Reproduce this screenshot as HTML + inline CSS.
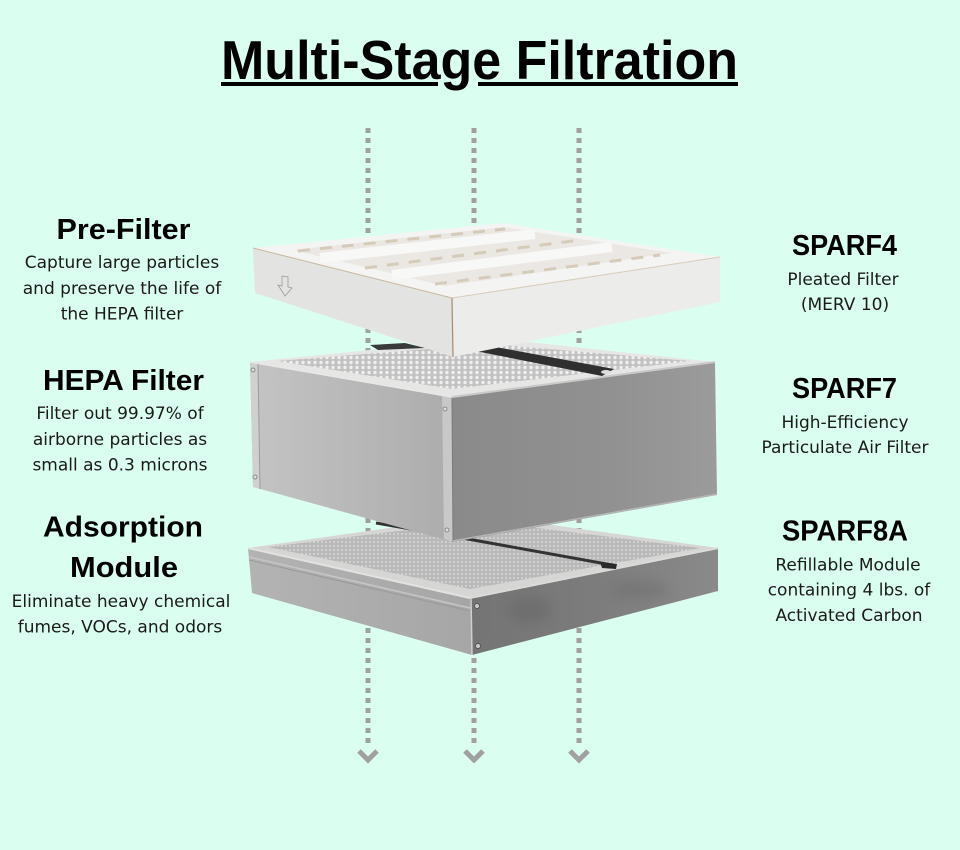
<!DOCTYPE html>
<html>
<head>
<meta charset="utf-8">
<style>
html,body{margin:0;padding:0;background:#dafff1;}
svg{display:block;}
.h{font-family:"Liberation Sans",Arial,sans-serif;font-weight:bold;font-size:29px;fill:#000;}
.b{font-family:"DejaVu Sans","Liberation Sans",sans-serif;font-size:17px;fill:#1a1a1a;}
</style>
</head>
<body>
<svg width="960" height="850" viewBox="0 0 960 850" xmlns="http://www.w3.org/2000/svg">
<defs>
  <pattern id="m1" width="6" height="5" patternUnits="userSpaceOnUse">
    <rect width="6" height="5" fill="#c2c2c2"/>
    <circle cx="3" cy="2.5" r="1.7" fill="#efefef"/>
  </pattern>
  <pattern id="m2" width="4" height="4" patternUnits="userSpaceOnUse">
    <rect width="4" height="4" fill="#b9b9b9"/>
    <circle cx="2" cy="2" r="1" fill="#d6d6d6"/>
  </pattern>
  <linearGradient id="hl" x1="0" y1="0" x2="1" y2="0">
    <stop offset="0" stop-color="#c4c4c4"/>
    <stop offset="1" stop-color="#acacac"/>
  </linearGradient>
  <linearGradient id="hr" x1="0" y1="0" x2="1" y2="0">
    <stop offset="0" stop-color="#8a8a8a"/>
    <stop offset="0.6" stop-color="#919191"/>
    <stop offset="1" stop-color="#9b9b9b"/>
  </linearGradient>
  <linearGradient id="al" x1="0" y1="0" x2="1" y2="0">
    <stop offset="0" stop-color="#b3b3b3"/>
    <stop offset="1" stop-color="#a6a6a6"/>
  </linearGradient>
  <linearGradient id="ar" x1="0" y1="0" x2="1" y2="0">
    <stop offset="0" stop-color="#747474"/>
    <stop offset="0.5" stop-color="#7c7c7c"/>
    <stop offset="1" stop-color="#8a8a8a"/>
  </linearGradient>
  <filter id="blur" x="-20%" y="-20%" width="140%" height="140%"><feGaussianBlur stdDeviation="6"/></filter>
</defs>

<!-- Title -->
<text x="221" y="79" textLength="517" lengthAdjust="spacingAndGlyphs" font-family="Liberation Sans, Arial, sans-serif" font-weight="bold" font-size="55" fill="#000">Multi-Stage Filtration</text>
<rect x="221" y="82" width="217" height="4" fill="#000"/>
<rect x="478" y="82" width="260" height="4" fill="#000"/>

<!-- dotted air flow lines -->
<g stroke="#a0a0a0" stroke-width="5" fill="none">
  <line x1="368" y1="128" x2="368" y2="748" stroke-dasharray="5 5"/>
  <line x1="474" y1="128" x2="474" y2="748" stroke-dasharray="5 5"/>
  <line x1="579" y1="128" x2="579" y2="748" stroke-dasharray="5 5"/>
  <polyline points="359,751 368,760 377,751"/>
  <polyline points="465,751 474,760 483,751"/>
  <polyline points="570,751 579,760 588,751"/>
</g>

<!-- Adsorption module -->
<g>
  <polygon points="248,548 480,515 718,548 470,598" fill="#d6d6d4"/>
  <polygon points="268,547 480,521 700,548 470,589" fill="url(#m2)"/>
  <polygon points="248,548 470,598 472,655 252,593" fill="url(#al)"/>
  <polygon points="470,598 718,549 718,591 472,655" fill="url(#ar)"/>
  <g clip-path="none" filter="url(#blur)" opacity="0.35">
    <ellipse cx="530" cy="610" rx="22" ry="14" fill="#5e5e5e"/>
    <ellipse cx="640" cy="590" rx="30" ry="10" fill="#666"/>
  </g>
  <line x1="249" y1="557" x2="470" y2="608" stroke="#c6c6c6" stroke-width="1.5"/>
  <line x1="249" y1="560" x2="470" y2="611" stroke="#999" stroke-width="1"/>
  <line x1="248" y1="548" x2="470" y2="598" stroke="#e2e2e0" stroke-width="2"/>
  <line x1="470" y1="598" x2="718" y2="548" stroke="#dadad8" stroke-width="2"/>
  <line x1="471" y1="598" x2="472" y2="655" stroke="#cfcfcf" stroke-width="1.5"/>
  <polyline points="376,523 440,534 612,565" stroke="#333" stroke-width="3" fill="none"/>
  <polygon points="600,562 617,564 616,569 602,568" fill="#2a2a2a"/>
  <circle cx="477" cy="606" r="2.5" fill="#ccc" stroke="#555" stroke-width="1"/>
  <circle cx="478" cy="646" r="2.5" fill="#ccc" stroke="#555" stroke-width="1"/>
</g>

<!-- HEPA filter -->
<g>
  <polygon points="250,362 490,338 715,362 452,397" fill="#e6e6e4"/>
  <polygon points="277,361 490,344 690,361 452,389" fill="url(#m1)"/>
  <polygon points="250,362 452,397 453,542 253,487" fill="url(#hl)"/>
  <polygon points="452,397 715,362 717,495 453,542" fill="url(#hr)"/>
  <polygon points="250,362 258,364 260,489 253,487" fill="#d0d0d0"/>
  <line x1="258" y1="364" x2="260" y2="489" stroke="#9a9a9a" stroke-width="1"/>
  <polygon points="442,395 452,397 453,542 444,539" fill="#c8c8c8"/>
  <line x1="452" y1="397" x2="453" y2="542" stroke="#7a7a7a" stroke-width="1"/>
  <line x1="452" y1="397" x2="715" y2="362" stroke="#c9c9c9" stroke-width="2"/>
  <line x1="250" y1="362" x2="452" y2="397" stroke="#e8e8e8" stroke-width="1.5"/>
  <line x1="453" y1="541" x2="717" y2="494" stroke="#b5b5b5" stroke-width="1.5"/>
  <polygon points="370,345 405,343 425,348 378,350" fill="#3a3a3a"/>
  <polygon points="470,350 485,345 614,369 602,376" fill="#2f2f2f"/>
  <ellipse cx="606" cy="372" rx="5" ry="2" fill="#ddd"/>
  <circle cx="253" cy="370" r="2" fill="#ddd" stroke="#777" stroke-width="0.8"/>
  <circle cx="255" cy="477" r="2" fill="#ddd" stroke="#777" stroke-width="0.8"/>
  <circle cx="445" cy="409" r="2" fill="#ddd" stroke="#777" stroke-width="0.8"/>
  <circle cx="447" cy="530" r="2" fill="#ddd" stroke="#777" stroke-width="0.8"/>
</g>

<!-- Pre-filter -->
<g>
  <polygon points="253,248 503,223 720,257 452,298" fill="#f4f4f2"/>
  <polygon points="293,250 503,227 672,253 445,286" fill="#ebe8e3"/>
  <g stroke="#d6cbb9" stroke-width="3" stroke-dasharray="12 10" fill="none">
    <line x1="298" y1="251" x2="505" y2="229"/>
    <line x1="365" y1="268" x2="580" y2="240"/>
    <line x1="435" y1="284" x2="660" y2="255"/>
  </g>
  <g stroke="#f8f8f6" stroke-width="10" fill="none">
    <line x1="320" y1="258" x2="535" y2="234"/>
    <line x1="392" y1="275" x2="612" y2="247"/>
  </g>
  <polygon points="253,248 452,298 453,357 255,293" fill="#e3e3e1"/>
  <polygon points="452,298 720,257 720,302 453,357" fill="#ececea"/>
  <line x1="253" y1="248" x2="452" y2="298" stroke="#c9b89c" stroke-width="1"/>
  <line x1="452" y1="298" x2="720" y2="257" stroke="#d8ccb8" stroke-width="1"/>
  <line x1="452" y1="298" x2="453" y2="357" stroke="#a88a68" stroke-width="1.2"/>
  <g stroke="#999" stroke-width="0.8" fill="none">
    <polyline points="282,276 288,277 288,287 292,288 285,296 278,285 282,286 282,276"/>
  </g>
</g>

<!-- Left column -->
<text class="h" x="123.5" y="239" text-anchor="middle" textLength="134" lengthAdjust="spacingAndGlyphs">Pre-Filter</text>
<text class="b" x="122" y="268" text-anchor="middle">Capture large particles</text>
<text class="b" x="122" y="294" text-anchor="middle">and preserve the life of</text>
<text class="b" x="122" y="319.5" text-anchor="middle">the HEPA filter</text>

<text class="h" x="123.5" y="390" text-anchor="middle" textLength="161" lengthAdjust="spacingAndGlyphs">HEPA Filter</text>
<text class="b" x="120" y="419" text-anchor="middle">Filter out 99.97% of</text>
<text class="b" x="120" y="445" text-anchor="middle">airborne particles as</text>
<text class="b" x="120" y="470.5" text-anchor="middle">small as 0.3 microns</text>

<text class="h" x="123" y="536.5" text-anchor="middle" textLength="160" lengthAdjust="spacingAndGlyphs">Adsorption</text>
<text class="h" x="124" y="577" text-anchor="middle" textLength="108" lengthAdjust="spacingAndGlyphs">Module</text>
<text class="b" x="121" y="607" text-anchor="middle">Eliminate heavy chemical</text>
<text class="b" x="120" y="632.5" text-anchor="middle">fumes, VOCs, and odors</text>

<!-- Right column -->
<text class="h" x="844.5" y="255" text-anchor="middle" textLength="105" lengthAdjust="spacingAndGlyphs">SPARF4</text>
<text class="b" x="843" y="285" text-anchor="middle">Pleated Filter</text>
<text class="b" x="845" y="310" text-anchor="middle">(MERV 10)</text>

<text class="h" x="844.5" y="398" text-anchor="middle" textLength="105" lengthAdjust="spacingAndGlyphs">SPARF7</text>
<text class="b" x="845" y="428" text-anchor="middle">High-Efficiency</text>
<text class="b" x="845" y="453" text-anchor="middle">Particulate Air Filter</text>

<text class="h" x="845" y="540.5" text-anchor="middle" textLength="126" lengthAdjust="spacingAndGlyphs">SPARF8A</text>
<text class="b" x="848" y="570.5" text-anchor="middle">Refillable Module</text>
<text class="b" x="849" y="595.5" text-anchor="middle">containing 4 lbs. of</text>
<text class="b" x="849" y="621" text-anchor="middle">Activated Carbon</text>
</svg>
</body>
</html>
